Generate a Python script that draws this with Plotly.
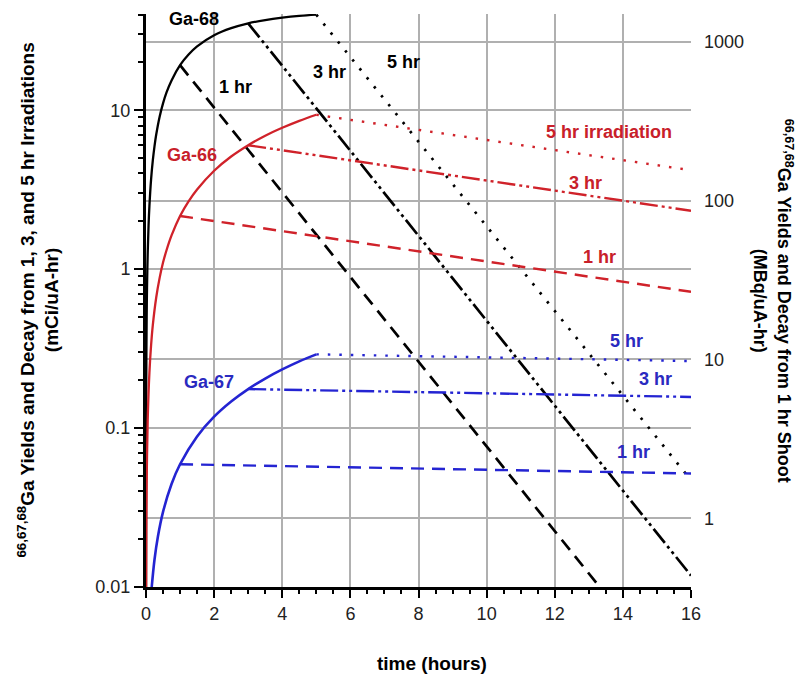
import math
import plotly.graph_objects as go

# ---------------- data ----------------
# Growth curves during irradiation (mCi/uA-hr)
t_ga68_growth = [0.0004, 0.002, 0.005, 0.01, 0.02, 0.03, 0.05, 0.075, 0.1, 0.15, 0.2, 0.25, 0.3, 0.4, 0.5,
                 0.6, 0.75, 1.0, 1.25, 1.5, 2.0, 2.5, 3.0, 3.5, 4.0, 4.5, 5.0]
v_ga68_growth = [0.01, 0.0513, 0.128, 0.256, 0.510, 0.763, 1.26, 1.88, 2.49, 3.68, 4.83, 5.95, 7.03, 9.11, 11.05,
                 12.9, 15.4, 19.2, 22.4, 25.2, 29.6, 32.8, 35.2, 36.9, 38.2, 39.2, 39.9]

t_ga66_growth = [0.0045, 0.01, 0.02, 0.03, 0.05, 0.1, 0.15, 0.2, 0.3, 0.4, 0.5, 0.6, 0.75, 1.0, 1.25, 1.5,
                 2.0, 2.5, 3.0, 3.5, 4.0, 4.5, 5.0]
v_ga66_growth = [0.01, 0.0224, 0.0447, 0.067, 0.112, 0.223, 0.333, 0.444, 0.663, 0.881, 1.10, 1.31, 1.63, 2.16, 2.67, 3.17,
                 4.16, 5.11, 6.02, 6.91, 7.75, 8.57, 9.36]

t_ga67_growth = [0.168, 0.25, 0.35, 0.5, 0.75, 1.0, 1.5, 2.0, 2.5, 3.0, 3.5, 4.0, 4.5, 5.0]
v_ga67_growth = [0.01, 0.0149, 0.0208, 0.0297, 0.0445, 0.0592, 0.0886, 0.118, 0.147, 0.176, 0.205, 0.234, 0.263, 0.291]

# Decay after end of bombardment (1, 3, 5 hr irradiations)
t_ga68_1hr = [1.0, 13.32]
v_ga68_1hr = [19.2, 0.01]
t_ga68_3hr = [3.0, 16.0]
v_ga68_3hr = [35.2, 0.0118]
t_ga68_5hr = [5.0, 16.0]
v_ga68_5hr = [39.9, 0.047]

t_ga66_1hr = [1.0, 16.0]
v_ga66_1hr = [2.16, 0.72]
t_ga66_3hr = [3.0, 16.0]
v_ga66_3hr = [6.02, 2.33]
t_ga66_5hr = [5.0, 16.0]
v_ga66_5hr = [9.36, 4.19]

t_ga67_1hr = [1.0, 16.0]
v_ga67_1hr = [0.0592, 0.0518]
t_ga67_3hr = [3.0, 16.0]
v_ga67_3hr = [0.176, 0.157]
t_ga67_5hr = [5.0, 16.0]
v_ga67_5hr = [0.291, 0.264]

# Axis ticks
x_ticks = [0, 2, 4, 6, 8, 10, 12, 14, 16]
y_left_ticks = [0.01, 0.1, 1, 10]
y_left_labels = ["0.01", "0.1", "1", "10"]
y_right_ticks = [1, 10, 100, 1000]
y_right_labels = ["1", "10", "100", "1000"]
mci_to_mbq = 37.0

# ---------------- styling ----------------
BLACK = "#000000"
RED = "#d0222a"
BLUE = "#2424d2"
RED_TXT = "#c8202a"
BLUE_TXT = "#2a2ac0"
GRID = "#b0b0b0"
FONT = "Liberation Sans, Arial, Helvetica, sans-serif"

DASH_1 = "13px,8px"
DASH_3 = "18px,4px,3px,4px,3px,4px"
DASH_5 = "2.5px,9px"

fig = go.Figure()


def add_line(t, v, color, width, dash="solid", shape="linear"):
    fig.add_trace(go.Scatter(x=t, y=v, mode="lines",
                             line=dict(color=color, width=width, dash=dash, shape=shape),
                             hoverinfo="skip", showlegend=False))


# Ga-68
add_line(t_ga68_growth, v_ga68_growth, BLACK, 2.3, shape="spline")
add_line(t_ga68_1hr, v_ga68_1hr, BLACK, 2.7, DASH_1)
add_line(t_ga68_3hr, v_ga68_3hr, BLACK, 2.7, DASH_3)
add_line(t_ga68_5hr, v_ga68_5hr, BLACK, 2.7, DASH_5)
# Ga-66
add_line(t_ga66_growth, v_ga66_growth, RED, 2.3, shape="spline")
add_line(t_ga66_1hr, v_ga66_1hr, RED, 2.4, DASH_1)
add_line(t_ga66_3hr, v_ga66_3hr, RED, 2.4, DASH_3)
add_line(t_ga66_5hr, v_ga66_5hr, RED, 2.4, DASH_5)
# Ga-67
add_line(t_ga67_growth, v_ga67_growth, BLUE, 2.6, shape="spline")
add_line(t_ga67_1hr, v_ga67_1hr, BLUE, 2.4, DASH_1)
add_line(t_ga67_3hr, v_ga67_3hr, BLUE, 2.4, DASH_3)
add_line(t_ga67_5hr, v_ga67_5hr, BLUE, 2.4, DASH_5)

# empty trace so the right-hand (MBq) axis is drawn
fig.add_trace(go.Scatter(x=[], y=[], yaxis="y2", mode="lines",
                         hoverinfo="skip", showlegend=False))

# ---------------- axes ----------------
y_lo, y_hi = 0.01, 40.3
ly_lo, ly_hi = math.log10(y_lo), math.log10(y_hi)
shift = math.log10(mci_to_mbq)

minor_vals = [m * d for d in (0.01, 0.1, 1, 10) for m in range(2, 10) if m * d <= y_hi]

# page body has an 8px margin: figure is 796x680 so it fits the 804x688 window
fig.update_layout(
    width=796, height=680,
    margin=dict(l=138, r=113, t=6, b=101),
    paper_bgcolor="white", plot_bgcolor="white",
    font=dict(family=FONT, size=18, color="#222222"),
    xaxis=dict(
        range=[0, 16], tickmode="array", tickvals=x_ticks,
        ticks="outside", ticklen=8, tickwidth=2, tickcolor=BLACK,
        showline=True, linecolor=BLACK, linewidth=3,
        showgrid=True, gridcolor=GRID, gridwidth=1.5, zeroline=False,
        minor=dict(dtick=0.5, ticks="outside", ticklen=4, tickwidth=1.5,
                   tickcolor=BLACK, showgrid=False),
        tickfont=dict(size=18, color="#222222"),
    ),
    yaxis=dict(
        type="log", range=[ly_lo, ly_hi], tickmode="array",
        tickvals=y_left_ticks, ticktext=y_left_labels,
        ticks="outside", ticklen=9, tickwidth=2, tickcolor=BLACK,
        showline=True, linecolor=BLACK, linewidth=3,
        showgrid=True, gridcolor=GRID, gridwidth=1.5, zeroline=False,
        minor=dict(tickmode="array", tickvals=minor_vals, ticks="outside",
                   ticklen=5, tickwidth=1.5, tickcolor=BLACK, showgrid=False),
        tickfont=dict(size=18, color="#222222"),
    ),
    yaxis2=dict(
        type="log", range=[ly_lo + shift, ly_hi + shift], overlaying="y",
        side="right", tickmode="array", tickvals=y_right_ticks,
        ticktext=y_right_labels, ticks="", showline=False,
        showgrid=True, gridcolor=GRID, gridwidth=1.5, zeroline=False,
        ticklabelstandoff=12,
        tickfont=dict(size=18, color="#222222"),
    ),
)

# ---------------- labels ----------------
def label(x, y, text, color, size=18):
    fig.add_annotation(x=x, y=math.log10(y), xref="x", yref="y", text=f"<b>{text}</b>",
                       showarrow=False, font=dict(family=FONT, size=size, color=color),
                       xanchor="center", yanchor="middle")


label(1.41, 37.3, "Ga-68", BLACK)
label(2.62, 13.9, "1 hr", BLACK)
label(5.38, 17.3, "3 hr", BLACK)
label(7.55, 20.0, "5 hr", BLACK)
label(1.35, 5.2, "Ga-66", RED_TXT)
label(13.6, 7.3, "5 hr irradiation", RED_TXT)
label(12.9, 3.47, "3 hr", RED_TXT)
label(13.3, 1.19, "1 hr", RED_TXT)
label(1.85, 0.195, "Ga-67", BLUE_TXT)
label(14.1, 0.352, "5 hr", BLUE_TXT)
label(14.95, 0.203, "3 hr", BLUE_TXT)
label(14.3, 0.0707, "1 hr", BLUE_TXT)

fig.add_annotation(
    x=-0.198, y=0.5, xref="paper", yref="paper", textangle=-90,
    text="<b><sup>66,67,68</sup>Ga Yields and Decay from 1, 3, and 5 hr Irradiations<br>(mCi/uA-hr)</b>",
    showarrow=False, font=dict(family=FONT, size=19, color=BLACK),
    xanchor="center", yanchor="middle")

fig.add_annotation(
    x=1.152, y=0.5, xref="paper", yref="paper", textangle=90,
    text="<b><sup>66,67,68</sup>Ga Yields and Decay from 1 hr Shoot<br>(MBq/uA-hr)</b>",
    showarrow=False, font=dict(family=FONT, size=18, color=BLACK),
    xanchor="center", yanchor="middle")

fig.add_annotation(
    x=0.525, y=-0.134, xref="paper", yref="paper",
    text="<b>time (hours)</b>", showarrow=False,
    font=dict(family=FONT, size=19, color=BLACK),
    xanchor="center", yanchor="middle")

fig.write_html("out.html")
